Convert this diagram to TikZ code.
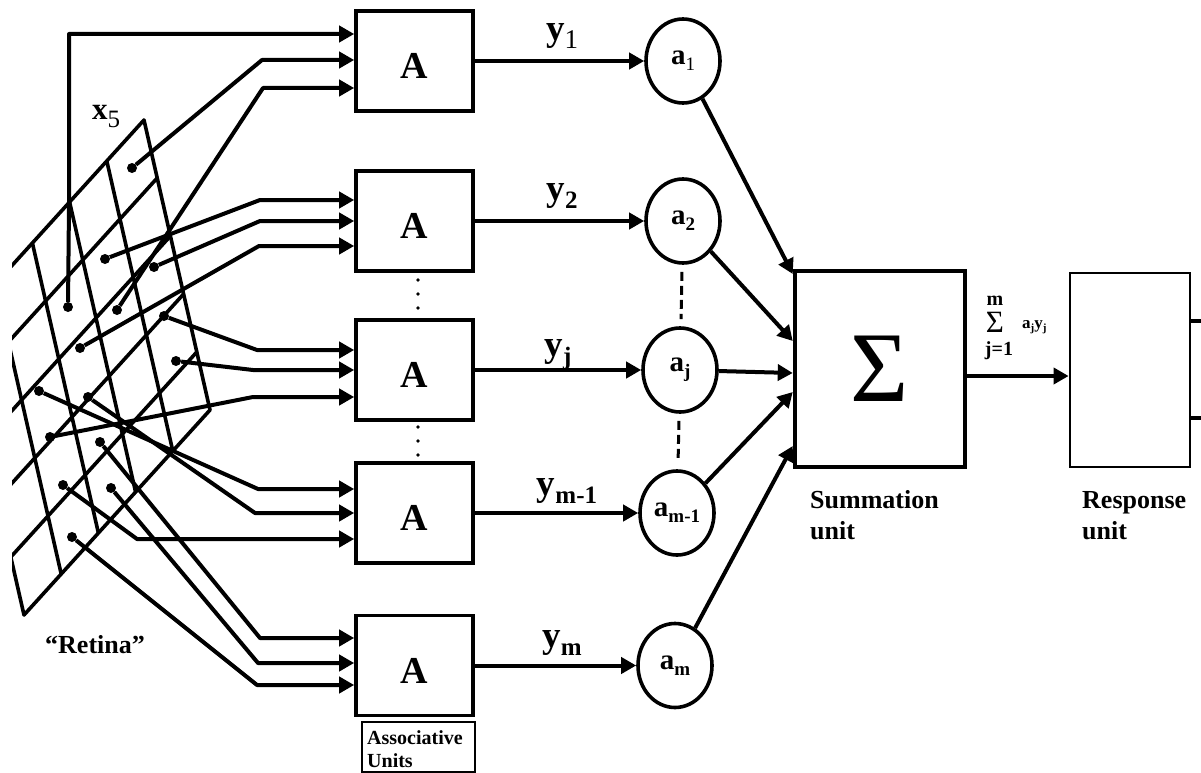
\documentclass[tikz,border=0pt]{standalone}
\usepackage{fontspec}
\setmainfont{Liberation Serif}
\usetikzlibrary{arrows.meta,shapes.geometric}
\newcommand{\myfs}[1]{\fontsize{#1}{#1}\selectfont}
\newcommand{\subt}[3]{\raisebox{#3}{\myfs{#2}#1}}
\begin{document}
\begin{tikzpicture}[x=1pt,y=-1pt,
  wire/.style={line width=4pt, line join=round, -{Triangle[length=15pt,width=16pt]}},
  gline/.style={line width=3.6pt, line cap=round},
  dot/.style={circle, fill=black, inner sep=0pt, minimum size=10pt},
  abox/.style={draw, line width=3.6pt, minimum width=117pt, minimum height=100pt, inner sep=0pt,
    text height=35pt, text depth=0pt, font={\myfs{38}\bfseries}},
  unit/.style={ellipse, draw, line width=3.6pt, minimum width=74pt, minimum height=84pt, inner sep=0pt,
    font={\myfs{29}\bfseries}},
  ylab/.style={anchor=base, inner sep=0pt, font={\myfs{37}\bfseries}},
  captext/.style={anchor=base west, inner sep=0pt, font={\myfs{26}\bfseries}},
  smalltext/.style={inner sep=0pt, font={\myfs{20}\bfseries}},
  dashline/.style={line width=3pt, dash pattern=on 9pt off 5pt, shorten <=7pt, shorten >=7pt}
]
\useasboundingbox (0,0) rectangle (1201,773);

% retina grid
\begin{scope}
\clip (12,100) rectangle (260,700);
\foreach \i in {0,...,5} \draw[gline] ({144-37.2*\i},{120+41*\i}) -- ++(66,290);
\foreach \j in {0,...,5} \draw[gline] ({144+13.2*\j},{120+58*\j}) -- ++(-186,205);
\end{scope}
\node[anchor=base west, inner sep=0pt, font={\myfs{31}\bfseries}] (x5) at (92,120) {x\subt{\mdseries 5}{25}{-8pt}};
\node[captext] (retina) at (45,653) {“Retina”};

% associative units
\node[abox] (A1) at (414.5,61) {A};
\node[abox] (A2) at (414.5,221) {A};
\node[abox] (A3) at (414.5,370) {A};
\node[abox] (A4) at (414.5,513) {A};
\node[abox] (A5) at (414.5,665.5) {A};
\foreach \yy in {280,294,308,427,441,455} \fill (418,\yy) circle (1.8);

\draw[line width=1.6pt] (362,722) rectangle (475,772);
\node[anchor=base west, inner sep=0pt, font={\myfs{20}\bfseries}] (au1) at (367,744) {Associative};
\node[anchor=base west, inner sep=0pt, font={\myfs{20}\bfseries}] (au2) at (367,767) {Units};

% retina points
\node[dot] (d1) at (68,307) {};
\node[dot] (d2) at (132,168) {};
\node[dot] (d3) at (117,310) {};
\node[dot] (d4) at (105,259) {};
\node[dot] (d5) at (154,267) {};
\node[dot] (d6) at (80,348) {};
\node[dot] (d7) at (164,316) {};
\node[dot] (d8) at (176,361) {};
\node[dot] (d9) at (50,437) {};
\node[dot] (d10) at (39,391) {};
\node[dot] (d11) at (88,397) {};
\node[dot] (d12) at (63,485) {};
\node[dot] (d13) at (100,442) {};
\node[dot] (d14) at (111,488) {};
\node[dot] (d15) at (72,537) {};

% wires
\draw[wire] (d1) -- (69,205) -- (69,34) -- (A1.west |- 0,34);
\draw[wire] (d2) -- (262,60) -- (A1.west |- 0,60);
\draw[wire] (d3) -- (263,88) -- (A1.west |- 0,88);
\draw[wire] (d4) -- (260,200) -- (A2.west |- 0,200);
\draw[wire] (d5) -- (260,221) -- (A2.west |- 0,221);
\draw[wire] (d6) -- (259,246) -- (A2.west |- 0,246);
\draw[wire] (d7) -- (257,350) -- (A3.west |- 0,350);
\draw[wire] (d8) -- (253,370) -- (A3.west |- 0,370);
\draw[wire] (d9) -- (253,397) -- (A3.west |- 0,397);
\draw[wire] (d10) -- (258,489) -- (A4.west |- 0,489);
\draw[wire] (d11) -- (255,513) -- (A4.west |- 0,513);
\draw[wire] (d12) -- (137,539) -- (A4.west |- 0,539);
\draw[wire] (d13) -- (260,638) -- (A5.west |- 0,638);
\draw[wire] (d14) -- (258,663) -- (A5.west |- 0,663);
\draw[wire] (d15) -- (257,685) -- (A5.west |- 0,685);

% weight units
\node[unit] (a1) at (683,61) {a\subt{\mdseries 1}{19}{-6pt}};
\node[unit] (a2) at (683,221) {a\subt{2}{19}{-6pt}};
\node[unit] (aj) at (680,370) {a\subt{j}{19}{-6pt}};
\node[unit] (am1) at (677,513) {a\subt{m-1}{19}{-6pt}};
\node[unit] (am) at (675,665.5) {a\subt{m}{19}{-6pt}};

\draw[wire] (A1) -- (a1);
\draw[wire] (A2) -- (a2);
\draw[wire] (A3) -- (aj);
\draw[wire] (A4) -- (am1);
\draw[wire] (A5) -- (am);

\node[ylab] (y1) at (562,41) {y\subt{\mdseries 1}{27}{-8pt}};
\node[ylab] (y2) at (562,200) {y\subt{2}{25}{-8pt}};
\node[ylab] (yj) at (558,356) {y\subt{j}{25}{-8pt}};
\node[ylab] (ym1) at (567,495) {y\subt{m-1}{25}{-8pt}};
\node[ylab] (ym) at (562,647) {y\subt{m}{25}{-8pt}};

\draw[dashline] (a2) -- (aj);
\draw[dashline] (aj) -- (am1);

% summation unit
\node[draw, line width=4.5pt, minimum width=170pt, minimum height=196pt, inner sep=0pt,
  font={\myfs{100}}] (S) at (880,369) {Σ};
\draw[wire] (a1) -- (S.west |- 0,274);
\draw[wire] (a2) -- (S.west |- 0,341);
\draw[wire] (aj) -- (S.west |- 0,373);
\draw[wire] (am1) -- (S.west |- 0,392);
\draw[wire] (am) -- (S.west |- 0,446);
\node[captext] (sum1) at (810,508) {Summation};
\node[captext] (sum2) at (810,539) {unit};

% response unit
\node[draw, line width=2.8pt, minimum width=120pt, minimum height=194pt, inner sep=0pt] (R) at (1130,370) {};
\draw[wire] (S.east |- 0,376) -- (R.west |- 0,376);
\draw[line width=4.5pt] (R.east |- 0,321) -- ++(14,0);
\draw[line width=4.5pt] (R.east |- 0,418) -- ++(14,0);
\node[captext] (res1) at (1082,508) {Response};
\node[captext] (res2) at (1082,539) {unit};

% output formula
\node[smalltext] (sm) at (995,301) {m};
\node[inner sep=0pt, font={\myfs{31}}] (ss) at (995,322) {Σ};
\node[smalltext] (sj) at (999,351) {j=1};
\node[inner sep=0pt, font={\myfs{17}\bfseries}, anchor=base west] (saj) at (1022,328) {a\subt{j}{11}{-3pt}y\subt{j}{11}{-3pt}};
\end{tikzpicture}
\end{document}
